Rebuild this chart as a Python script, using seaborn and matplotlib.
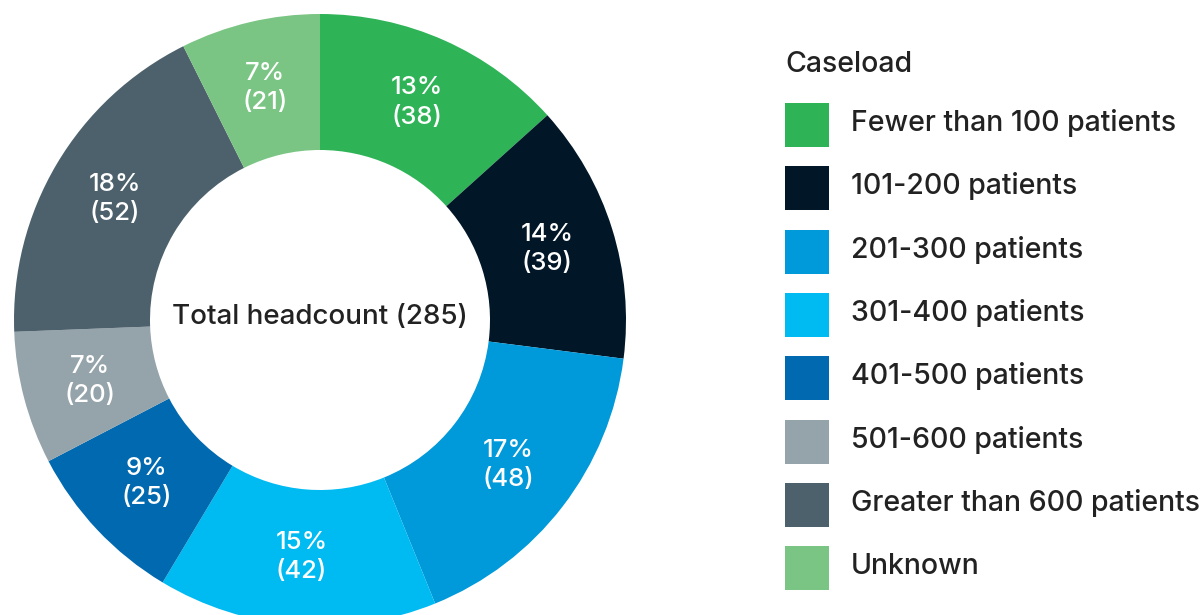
import matplotlib
matplotlib.use("Agg")
import matplotlib.pyplot as plt
from matplotlib.patches import Rectangle
import seaborn as sns

categories = ["Fewer than 100 patients", "101-200 patients", "201-300 patients",
              "301-400 patients", "401-500 patients", "501-600 patients",
              "Greater than 600 patients", "Unknown"]
values = [38, 39, 48, 42, 25, 20, 52, 21]
colors = ["#2EB357", "#011627", "#0099DA", "#00BAF2", "#0069AF", "#95A3AA", "#4D616C", "#7AC583"]
legend_title = "Caseload"
total = sum(values)
center_label = f"Total headcount ({total})"

sns.set_theme(style="white")
plt.rcParams['font.family'] = ['Inter', 'DejaVu Sans']
TXT = "#222222"
WEIGHT = 500

W, H = 1201, 615
fig = plt.figure(figsize=(W / 100, H / 100), dpi=100)
R = 306
cx, cy = 320, 320
ax = fig.add_axes([(cx - R) / W, (H - cy - R) / H, 2 * R / W, 2 * R / H])

inner = 170
width = (R - inner) / R
palette = sns.color_palette(colors)

def fmt(p):
    return f"{p:.0f}%\n({round(p * total / 100)})"

wedges, texts, autotexts = ax.pie(
    values, colors=palette, startangle=90, counterclock=False,
    radius=1, wedgeprops=dict(width=width, linewidth=0),
    autopct=fmt, pctdistance=1 - width / 2,
    textprops=dict(color="white", fontsize=18.5, linespacing=1.35, fontweight=WEIGHT))
ax.set_xlim(-1, 1)
ax.set_ylim(-1, 1)
ax.axis("off")

ax.text(0, 0.01, center_label, ha="center", va="center", fontsize=20,
        color=TXT, fontweight=WEIGHT)

# legend
lx, sq = 785, 44
fig.text(lx / W, 1 - 72 / H, legend_title, fontsize=20.5, color=TXT, va="baseline",
         ha="left", fontweight=WEIGHT)
row0, step = 125, 63.3
for i, (cat, col) in enumerate(zip(categories, palette)):
    yc = row0 + i * step
    fig.patches.append(Rectangle((lx / W, 1 - (yc + sq / 2) / H), sq / W, sq / H,
                                 transform=fig.transFigure, facecolor=col, edgecolor="none"))
    fig.text(851 / W, 1 - (yc + 6) / H, cat, fontsize=20.5, color=TXT, va="baseline",
             ha="left", fontweight=WEIGHT)

fig.savefig("out.png", dpi=100)
